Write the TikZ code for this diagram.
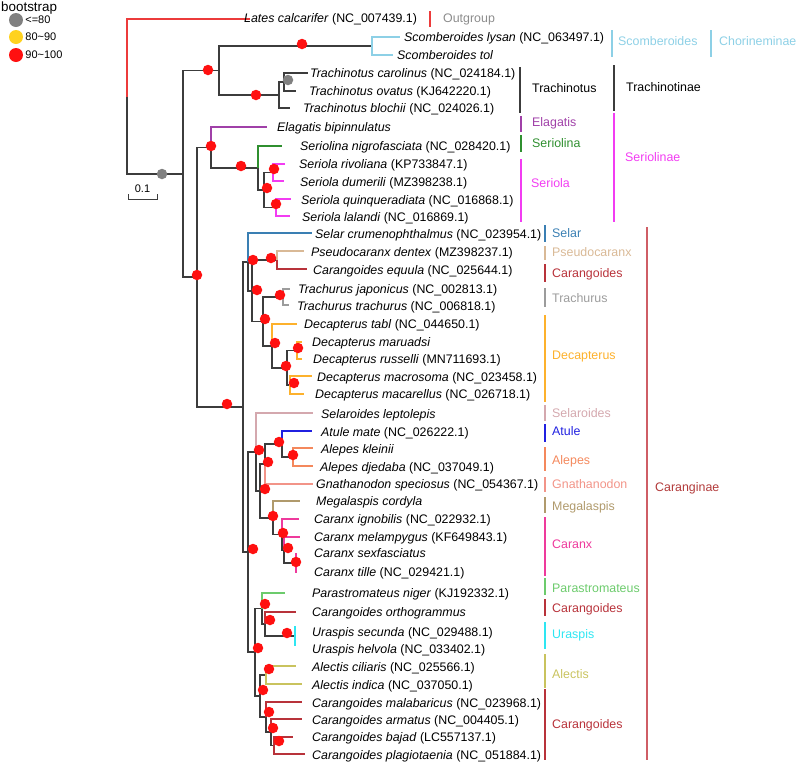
\documentclass[tikz,border=0pt]{standalone}
\usepackage{fontspec}
\setsansfont{Liberation Sans}
\usetikzlibrary{
  positioning,  % Function "of" (e.g. [right=of x])
}
\newcommand{\spp}[1]{\textit{#1}}
\def\mytaxsize{\fontsize{12.4}{14}\selectfont}
\def\mylegsize{\fontsize{11}{13}\selectfont}
\definecolor{twig}{HTML}{3C3C3C}
\definecolor{cOut}{HTML}{EC3B3B}
\definecolor{cOutTxt}{HTML}{8C8C8C}
\definecolor{cScomb}{HTML}{8DD0E6}
\definecolor{cElag}{HTML}{A040A8}
\definecolor{cSeriolina}{HTML}{2F8F2F}
\definecolor{cSeriola}{HTML}{F23CF2}
\definecolor{cSelar}{HTML}{3A7FB3}
\definecolor{cPseudo}{HTML}{D9B996}
\definecolor{cCarang}{HTML}{B8323A}
\definecolor{cTrachurus}{HTML}{9C9C9C}
\definecolor{cDecap}{HTML}{FDB12C}
\definecolor{cSelaroides}{HTML}{D4A8AE}
\definecolor{cAtule}{HTML}{2020E0}
\definecolor{cAlepes}{HTML}{F4885C}
\definecolor{cGnath}{HTML}{F29488}
\definecolor{cMegal}{HTML}{B09A6C}
\definecolor{cCaranx}{HTML}{EE3A9C}
\definecolor{cParas}{HTML}{6CCB6C}
\definecolor{cUrasp}{HTML}{2EE6F2}
\definecolor{cAlect}{HTML}{C9C35E}
\definecolor{cCarangBar}{HTML}{CF5E66}
\definecolor{cCaranginae}{HTML}{B23A3A}
\definecolor{bsgray}{HTML}{808080}
\definecolor{bsyellow}{HTML}{FFD21F}
\definecolor{bsred}{HTML}{FF1010}
\tikzset{
  font=\sffamily,
  branch/.style={
    line width=1.1pt,
    draw=twig
  },
  cbar/.style={
    line width=1.1pt
  },
  taxon/.style={
    anchor=west,
    inner sep=0pt,
    text height=8.9pt,
    text depth=0pt,
    font=\sffamily\mytaxsize
  },
  clade/.style={
    taxon
  },
  bs/.style={
    circle,
    draw=none,
    inner sep=0pt,
    minimum size=10.5pt
  },
  bs low/.style={bs,fill=bsgray},
  bs mid/.style={bs,fill=bsyellow},
  bs high/.style={bs,fill=bsred},
  legend dot/.style={minimum size=14pt},
  legend text/.style={
    anchor=west,
    inner sep=0pt,
    font=\sffamily\mylegsize
  }
}

\begin{document}
\begin{tikzpicture}[x=1pt,y=-1pt]
\useasboundingbox (0,0) rectangle (797,769);
% legend
\node[anchor=west,inner sep=0pt,font=\sffamily\fontsize{13.4}{15}\selectfont] (legtitle) at (1,8) {bootstrap};
\node[bs low,legend dot]  (leglow)  at (16,20) {};
\node[bs mid,legend dot]  (legmid)  at (16,37) {};
\node[bs high,legend dot] (leghigh) at (16,55) {};
\node[legend text,right=2pt of leglow]  (leglowtxt)  {<=80};
\node[legend text,right=2pt of legmid]  (legmidtxt)  {80\textasciitilde 90};
\node[legend text,right=2pt of leghigh] (leghightxt) {90\textasciitilde 100};
% scale bar
\coordinate (sbl) at (128,199);
\coordinate (sbr) at (157,199);
\draw[line width=0.8pt,twig] (sbl) ++(0,-5) -- (sbl) -- (sbr) -- ++(0,-5);
\node[inner sep=0pt,font=\sffamily\mylegsize] (sblabel) at (142.5,189) {0.1};
% internal nodes
\coordinate (R)     at (127,96.5);
\coordinate (A)     at (183,174);
\coordinate (SC)    at (219,70.5);
\coordinate (Scomb) at (372,46);
\coordinate (Trach) at (279,95);
\coordinate (TcTo)  at (284,82);
\coordinate (B)     at (197,277);
\coordinate (S)     at (211,147.5);
\coordinate (SS)    at (258,168);
\coordinate (Sr)    at (264,190);
\coordinate (Sr1)   at (273,172.5);
\coordinate (Sr2)   at (276,207.5);
\coordinate (C)     at (243,407);
\coordinate (CU)    at (248,262);
\coordinate (CU1)   at (252,291);
\coordinate (P)     at (277,260);
\coordinate (TD)    at (263,321.5);
\coordinate (Tr)    at (283,297);
\coordinate (Dc)    at (272,346);
\coordinate (Dc1)   at (287,368);
\coordinate (Dc2)   at (297,350.5);
\coordinate (Dc3)   at (290,385);
\coordinate (G)     at (248,552);
\coordinate (H)     at (256,452);
\coordinate (H1)    at (260,491);
\coordinate (H2)    at (265,464);
\coordinate (AA)    at (282,444);
\coordinate (Al1)   at (293,457);
\coordinate (H3)    at (273,518);
\coordinate (Cx1)   at (282,534.5);
\coordinate (Cx2)   at (284,550);
\coordinate (Cx3)   at (296,563);
\coordinate (K)     at (255,652);
\coordinate (K1)    at (262,608.5);
\coordinate (K1b)   at (265,624);
\coordinate (U)     at (295,636);
\coordinate (K2)    at (260,696);
\coordinate (Alc)   at (266,675);
\coordinate (Cg1)   at (266,717);
\coordinate (Cg2)   at (271,732);
\coordinate (Cg3)   at (274,745.5);
% tips
\coordinate (lates) at (250,19);
\coordinate (lysan) at (400,37);
\coordinate (tol)   at (393,55);
\coordinate (carol) at (308,73);
\coordinate (ovat)  at (296,91);
\coordinate (bloch) at (290,108);
\coordinate (elag)  at (267,127);
\coordinate (snig)  at (282,146);
\coordinate (rivo)  at (285,164);
\coordinate (dume)  at (284,181);
\coordinate (quin)  at (291,199);
\coordinate (lala)  at (290,216);
\coordinate (selar) at (312,233);
\coordinate (pseu)  at (304,251);
\coordinate (equu)  at (307,269);
\coordinate (japo)  at (290,289);
\coordinate (trtr)  at (289,305);
\coordinate (tabl)  at (297,324);
\coordinate (maru)  at (302,342);
\coordinate (russ)  at (302,359);
\coordinate (macr)  at (312,376);
\coordinate (maca)  at (304,394);
\coordinate (selr)  at (313,413);
\coordinate (atul)  at (312,431);
\coordinate (klei)  at (313,448);
\coordinate (djed)  at (313,466);
\coordinate (gnat)  at (313,484);
\coordinate (mega)  at (300,501);
\coordinate (igno)  at (299,519);
\coordinate (mela)  at (300,537);
\coordinate (sexf)  at (297,554);
\coordinate (till)  at (297,572);
\coordinate (para)  at (285,593);
\coordinate (orth)  at (296,612);
\coordinate (secu)  at (296,627);
\coordinate (helv)  at (296,645);
\coordinate (cili)  at (296,666);
\coordinate (indi)  at (302,684);
\coordinate (mala)  at (302,702);
\coordinate (arma)  at (302,719);
\coordinate (baja)  at (293,737);
\coordinate (plag)  at (305,754);
% branches
\foreach \p/\c/\col in {
  R/lates/cOut, R/A/twig, A/SC/twig, A/B/twig,
  SC/Scomb/twig, Scomb/lysan/cScomb, Scomb/tol/cScomb,
  SC/Trach/twig, Trach/TcTo/twig, TcTo/carol/twig, TcTo/ovat/twig, Trach/bloch/twig,
  B/S/twig, S/elag/cElag, S/SS/twig, SS/snig/cSeriolina, SS/Sr/twig,
  Sr/Sr1/twig, Sr/Sr2/twig, Sr1/rivo/cSeriola, Sr1/dume/cSeriola,
  Sr2/quin/cSeriola, Sr2/lala/cSeriola,
  B/C/twig, C/CU/twig, CU/selar/cSelar, CU/CU1/twig, CU1/P/twig,
  P/pseu/cPseudo, P/equu/cCarang, CU1/TD/twig, TD/Tr/twig,
  Tr/japo/cTrachurus, Tr/trtr/cTrachurus, TD/Dc/twig, Dc/tabl/cDecap,
  Dc/Dc1/twig, Dc1/Dc2/twig, Dc1/Dc3/twig, Dc2/maru/cDecap, Dc2/russ/cDecap,
  Dc3/macr/cDecap, Dc3/maca/cDecap,
  C/G/twig, G/H/twig, H/selr/cSelaroides, H/H1/twig, H1/H2/twig, H2/AA/twig,
  AA/atul/cAtule, AA/Al1/twig, Al1/klei/cAlepes, Al1/djed/cAlepes,
  H2/gnat/cGnath, H1/H3/twig, H3/mega/cMegal, H3/Cx1/twig, Cx1/igno/cCaranx,
  Cx1/Cx2/twig, Cx2/mela/cCaranx, Cx2/Cx3/twig, Cx3/sexf/cCaranx, Cx3/till/cCaranx,
  G/K/twig, K/K1/twig, K1/para/cParas, K1/K1b/twig, K1b/orth/cCarang,
  K1b/U/twig, U/secu/cUrasp, U/helv/cUrasp, K/K2/twig, K2/Alc/twig,
  Alc/cili/cAlect, Alc/indi/cAlect, K2/Cg1/twig, Cg1/mala/cCarang,
  Cg1/Cg2/twig, Cg2/arma/cCarang, Cg2/Cg3/twig, Cg3/baja/cCarang, Cg3/plag/cCarang}
  \draw[branch,draw=\col] (\p) |- (\c);
% bootstrap support
\node[bs low] (bsA)    at (162,174) {};
\node[bs low] (bsTcTo) at (288,80) {};
\foreach \x/\y [count=\i] in {
  208/70, 302/44, 256/95, 211/146, 241/166, 267/188, 274/169, 276/204,
  197/275, 227/404, 253/260, 271/258, 257/290, 280/295, 265/319, 275/343,
  286/366, 298/348, 294/383, 253/549, 259/450, 265/489, 268/462, 279/442,
  293/455, 273/516, 283/533, 288/548, 296/562, 258/648, 265/604, 270/620,
  287/633, 263/690, 269/669, 269/712, 273/728, 279/741}
  \node[bs high] (bs\i) at (\x,\y) {};
% taxa
\node[taxon] (t-lates) at (244,18)  {\spp{Lates calcarifer} (NC\_007439.1)};
\node[taxon] (t-lysan) at (404,37)  {\spp{Scomberoides lysan} (NC\_063497.1)};
\node[taxon] (t-tol)   at (397,55)  {\spp{Scomberoides tol}};
\node[taxon] (t-carol) at (310,73)  {\spp{Trachinotus carolinus} (NC\_024184.1)};
\node[taxon] (t-ovat)  at (309,91)  {\spp{Trachinotus ovatus} (KJ642220.1)};
\node[taxon] (t-bloch) at (303,108) {\spp{Trachinotus blochii} (NC\_024026.1)};
\node[taxon] (t-elag)  at (277,127) {\spp{Elagatis bipinnulatus}};
\node[taxon] (t-snig)  at (300,146) {\spp{Seriolina nigrofasciata} (NC\_028420.1)};
\node[taxon] (t-rivo)  at (299,164) {\spp{Seriola rivoliana} (KP733847.1)};
\node[taxon] (t-dume)  at (300,182) {\spp{Seriola dumerili} (MZ398238.1)};
\node[taxon] (t-quin)  at (301,200) {\spp{Seriola quinqueradiata} (NC\_016868.1)};
\node[taxon] (t-lala)  at (302,217) {\spp{Seriola lalandi} (NC\_016869.1)};
\node[taxon] (t-selar) at (315,234) {\spp{Selar crumenophthalmus} (NC\_023954.1)};
\node[taxon] (t-pseu)  at (311,252) {\spp{Pseudocaranx dentex} (MZ398237.1)};
\node[taxon] (t-equu)  at (313,270) {\spp{Carangoides equula} (NC\_025644.1)};
\node[taxon] (t-japo)  at (298,289) {\spp{Trachurus japonicus} (NC\_002813.1)};
\node[taxon] (t-trtr)  at (297,306) {\spp{Trachurus trachurus} (NC\_006818.1)};
\node[taxon] (t-tabl)  at (304,324) {\spp{Decapterus tabl} (NC\_044650.1)};
\node[taxon] (t-maru)  at (312,342) {\spp{Decapterus maruadsi}};
\node[taxon] (t-russ)  at (313,359) {\spp{Decapterus russelli} (MN711693.1)};
\node[taxon] (t-macr)  at (317,377) {\spp{Decapterus macrosoma} (NC\_023458.1)};
\node[taxon] (t-maca)  at (315,394) {\spp{Decapterus macarellus} (NC\_026718.1)};
\node[taxon] (t-selr)  at (321,414) {\spp{Selaroides leptolepis}};
\node[taxon] (t-atul)  at (321,432) {\spp{Atule mate} (NC\_026222.1)};
\node[taxon] (t-klei)  at (321,449) {\spp{Alepes kleinii}};
\node[taxon] (t-djed)  at (320,467) {\spp{Alepes djedaba} (NC\_037049.1)};
\node[taxon] (t-gnat)  at (316,484) {\spp{Gnathanodon speciosus} (NC\_054367.1)};
\node[taxon] (t-mega)  at (316,501) {\spp{Megalaspis cordyla}};
\node[taxon] (t-igno)  at (314,519) {\spp{Caranx ignobilis} (NC\_022932.1)};
\node[taxon] (t-mela)  at (314,537) {\spp{Caranx melampygus} (KF649843.1)};
\node[taxon] (t-sexf)  at (314,553) {\spp{Caranx sexfasciatus}};
\node[taxon] (t-till)  at (314,572) {\spp{Caranx tille} (NC\_029421.1)};
\node[taxon] (t-para)  at (312,593) {\spp{Parastromateus niger} (KJ192332.1)};
\node[taxon] (t-orth)  at (312,612) {\spp{Carangoides orthogrammus}};
\node[taxon] (t-secu)  at (312,632) {\spp{Uraspis secunda} (NC\_029488.1)};
\node[taxon] (t-helv)  at (312,649) {\spp{Uraspis helvola} (NC\_033402.1)};
\node[taxon] (t-cili)  at (312,667) {\spp{Alectis ciliaris} (NC\_025566.1)};
\node[taxon] (t-indi)  at (312,685) {\spp{Alectis indica} (NC\_037050.1)};
\node[taxon] (t-mala)  at (312,703) {\spp{Carangoides malabaricus} (NC\_023968.1)};
\node[taxon] (t-arma)  at (312,720) {\spp{Carangoides armatus} (NC\_004405.1)};
\node[taxon] (t-baja)  at (312,737) {\spp{Carangoides bajad} (LC557137.1)};
\node[taxon] (t-plag)  at (312,755) {\spp{Carangoides plagiotaenia} (NC\_051884.1)};
% clade bars
\foreach \x/\ya/\yb/\col in {
  430/11/27/cOut, 612/30/57/cScomb, 711/30/57/cScomb,
  520/67/113/twig, 614/65/111/twig, 521/116/132/cElag, 521/135/152/cSeriolina,
  521/159/222/cSeriola, 614/113/222/cSeriola,
  545/225/242/cSelar, 545/246/260/cPseudo, 545/264/282/cCarang,
  545/288/307/cTrachurus, 545/315/402/cDecap, 545/405/421/cSelaroides,
  545/424/442/cAtule, 545/447/471/cAlepes, 545/477/492/cGnath,
  545/497/513/cMegal, 545/517/576/cCaranx, 545/578/595/cParas,
  545/599/616/cCarang, 545/622/649/cUrasp, 545/654/688/cAlect,
  545/689/760/cCarang, 647/227/760/cCarangBar}
  \draw[cbar,draw=\col] (\x,\ya) -- (\x,\yb);
% clade names
\node[clade,text=cOutTxt]     (c-out)    at (443,18)  {Outgroup};
\node[clade,text=cScomb]      (c-scomb)  at (618,41)  {Scomberoides};
\node[clade,text=cScomb]      (c-chor)   at (719,41)  {Chorineminae};
\node[clade,text=black]       (c-trach)  at (532,88)  {Trachinotus};
\node[clade,text=black]       (c-trachi) at (626,87)  {Trachinotinae};
\node[clade,text=cElag]       (c-elag)   at (532,122) {Elagatis};
\node[clade,text=cSeriolina]  (c-snig)   at (532,143) {Seriolina};
\node[clade,text=cSeriola]    (c-seri)   at (531,183) {Seriola};
\node[clade,text=cSeriola]    (c-serin)  at (625,157) {Seriolinae};
\node[clade,text=cSelar]      (c-selar)  at (552,233) {Selar};
\node[clade,text=cPseudo]     (c-pseu)   at (552,252) {Pseudocaranx};
\node[clade,text=cCarang]     (c-car1)   at (552,273) {Carangoides};
\node[clade,text=cTrachurus]  (c-trchr)  at (552,298) {Trachurus};
\node[clade,text=cDecap]      (c-decap)  at (552,355) {Decapterus};
\node[clade,text=cSelaroides] (c-selr)   at (552,413) {Selaroides};
\node[clade,text=cAtule]      (c-atul)   at (552,431) {Atule};
\node[clade,text=cAlepes]     (c-alep)   at (552,460) {Alepes};
\node[clade,text=cGnath]      (c-gnat)   at (552,484) {Gnathanodon};
\node[clade,text=cMegal]      (c-mega)   at (552,506) {Megalaspis};
\node[clade,text=cCaranx]     (c-caranx) at (552,544) {Caranx};
\node[clade,text=cParas]      (c-para)   at (552,588) {Parastromateus};
\node[clade,text=cCarang]     (c-car2)   at (552,608) {Carangoides};
\node[clade,text=cUrasp]      (c-uras)   at (552,634) {Uraspis};
\node[clade,text=cAlect]      (c-alec)   at (552,674) {Alectis};
\node[clade,text=cCarang]     (c-car3)   at (552,724) {Carangoides};
\node[clade,text=cCaranginae] (c-caran)  at (655,487) {Caranginae};
\end{tikzpicture}
\end{document}
